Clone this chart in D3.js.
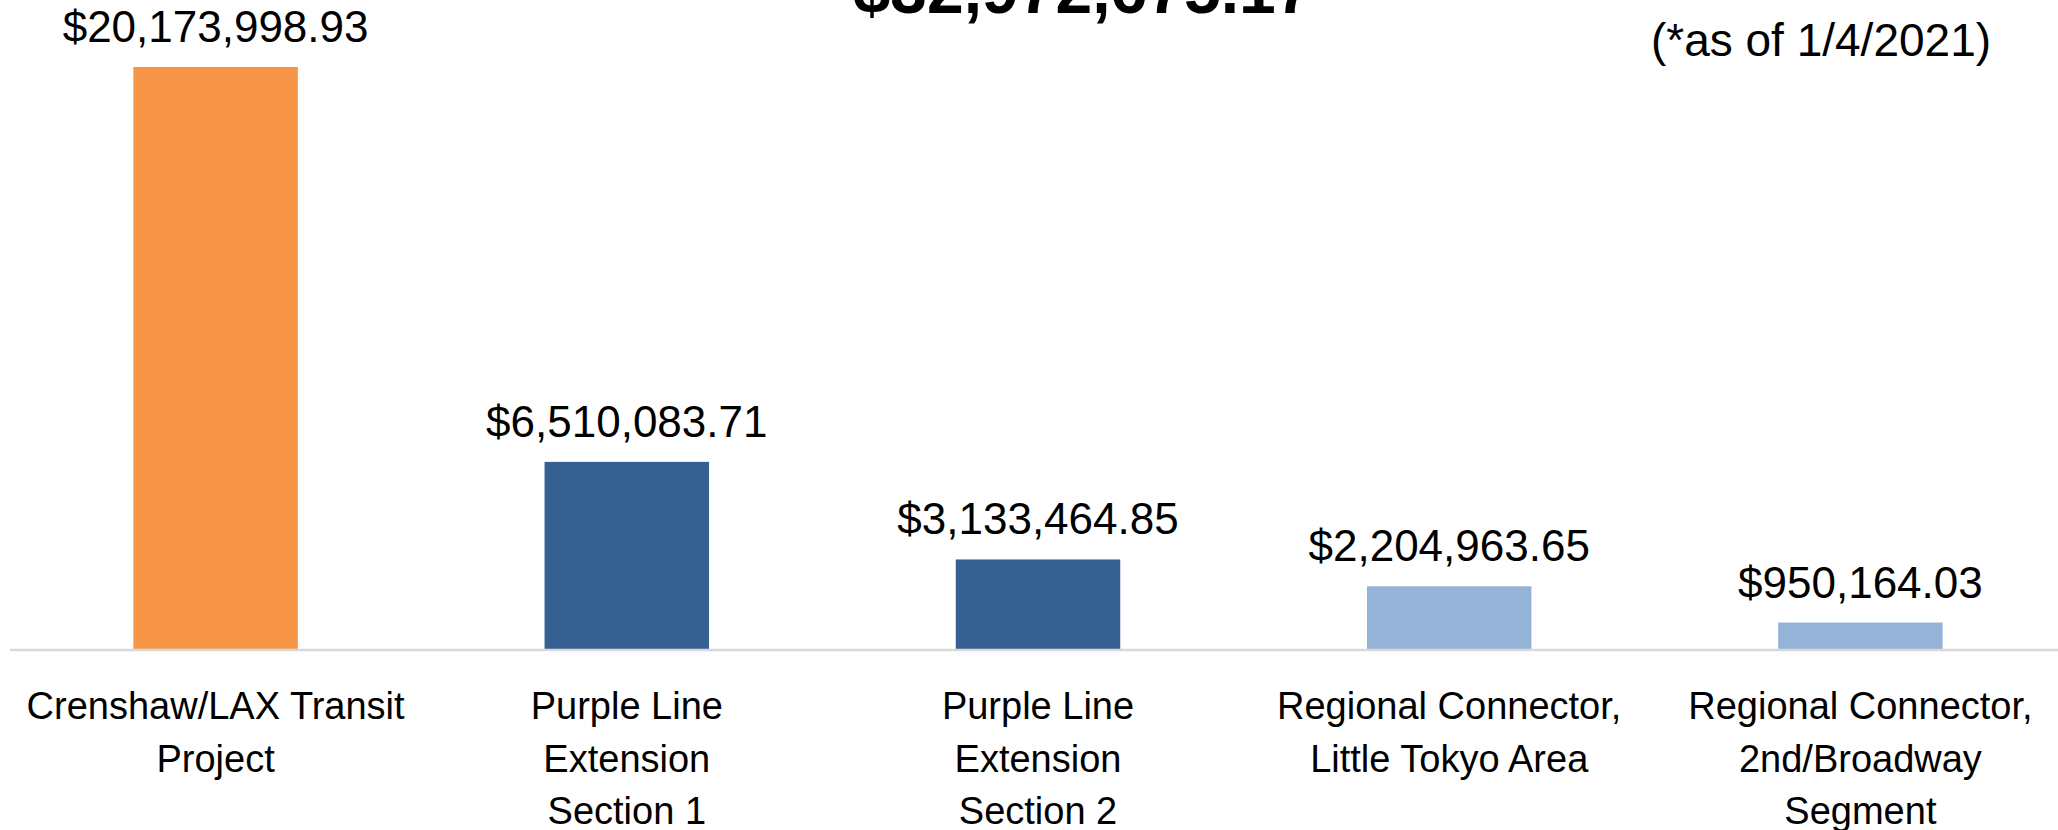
<!DOCTYPE html>
<html>
<head>
<meta charset="utf-8">
<script src="https://cdn.jsdelivr.net/npm/d3@7"></script>
<style>
  html, body { margin: 0; padding: 0; background: #fff; overflow: hidden; }
  text { font-family: "Liberation Sans", Arial, sans-serif; fill: #000; }
</style>
</head>
<body>
<svg id="chart" width="2058" height="830"></svg>
<script>
// chart data
const categories = ['Crenshaw', 'PLE1', 'PLE2', 'RC Little Tokyo', 'RC 2nd/Broadway'];
const tickLabels = [
  ['Crenshaw/LAX Transit', 'Project'],
  ['Purple Line', 'Extension', 'Section 1'],
  ['Purple Line', 'Extension', 'Section 2'],
  ['Regional Connector,', 'Little Tokyo Area'],
  ['Regional Connector,', '2nd/Broadway', 'Segment']
];
const amounts = [20173998.93, 6510083.71, 3133464.85, 2204963.65, 950164.03];
const barColors = ['#F79646', '#366092', '#366092', '#95B3D7', '#95B3D7'];
const totalLabel = '$32,972,675.17';
const noteLabel = '(*as of 1/4/2021)';

const svg = d3.select('#chart');
const baseY = 650;

const data = categories.map((c, i) => ({ key: c, value: amounts[i], lines: tickLabels[i], color: barColors[i] }));

const xScale = d3.scaleBand()
  .domain(categories)
  .range([10, 2066])
  .paddingInner(0.6)
  .paddingOuter(0.3);

const yScale = d3.scaleLinear()
  .domain([0, d3.max(amounts)])
  .range([baseY, 67]);

const money = v => '$' + d3.format(',.2f')(v);

// bars
svg.append('g').selectAll('rect').data(data)
  .enter().append('rect')
  .attr('x', d => xScale(d.key))
  .attr('y', d => yScale(d.value))
  .attr('width', xScale.bandwidth())
  .attr('height', d => yScale(0) - yScale(d.value))
  .attr('fill', d => d.color);

// value labels
svg.append('g').selectAll('text').data(data)
  .enter().append('text')
  .attr('x', d => xScale(d.key) + xScale.bandwidth() / 2)
  .attr('y', d => yScale(d.value) - 25)
  .attr('text-anchor', 'middle')
  .attr('font-size', 44)
  .text(d => money(d.value));

// x axis
const xAxis = d3.axisBottom(xScale).tickSize(0).tickFormat('');
const gx = svg.append('g')
  .attr('transform', `translate(0,${baseY})`)
  .call(xAxis);
gx.select('.domain')
  .attr('stroke', '#d9d9d9')
  .attr('stroke-width', 2.5)
  .attr('d', 'M10,0H2058');

gx.selectAll('.tick').each(function(d, i) {
  const t = d3.select(this).append('text')
    .attr('text-anchor', 'middle')
    .attr('font-size', 38)
    .attr('y', 69);
  tickLabels[i].forEach((line, j) => {
    t.append('tspan').attr('x', 0).attr('dy', j === 0 ? 0 : 52.5).text(line);
  });
});

// total, cut off at the top edge
svg.append('text')
  .attr('x', 1083)
  .attr('y', 13)
  .attr('text-anchor', 'middle')
  .attr('font-size', 66)
  .attr('font-weight', 'bold')
  .text(totalLabel);

svg.append('text')
  .attr('x', 1821)
  .attr('y', 56)
  .attr('text-anchor', 'middle')
  .attr('font-size', 46)
  .text(noteLabel);
</script>
</body>
</html>
